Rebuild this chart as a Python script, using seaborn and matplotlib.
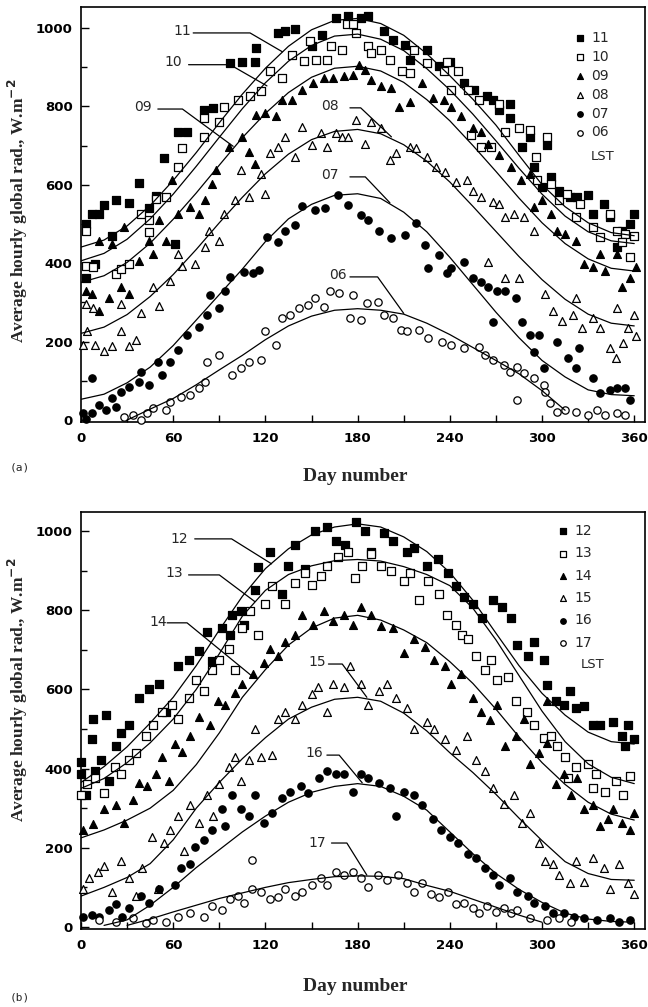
import numpy as np
import matplotlib
matplotlib.use("Agg")
import matplotlib.pyplot as plt
import seaborn as sns
from matplotlib.ticker import MultipleLocator

# ─── DADOS ───────────────────────────────────────────────────────────────────
# pontos: (dia, radiação média horária W/m2)
A11 = [(3, 500), (7, 525), (12, 525), (15, 549), (23, 562), (31, 553), (38, 605), (49, 571),
       (54, 669), (61, 448), (63, 735), (69, 735), (80, 790), (86, 795), (97, 910), (105, 914),
       (113, 914), (114, 948), (128, 987), (133, 991), (139, 996), (150, 953), (157, 983),
       (166, 1026), (174, 1030), (182, 1026), (187, 1030), (197, 991), (203, 970), (211, 957),
       (214, 919), (225, 944), (233, 902), (240, 914), (249, 859), (256, 842), (264, 825),
       (268, 816), (272, 790), (279, 807), (279, 769), (287, 697), (292, 722), (295, 645),
       (303, 701), (300, 594), (306, 620), (311, 585), (318, 568), (323, 568), (330, 573),
       (333, 526), (340, 551), (344, 517), (352, 483), (357, 500), (360, 526), (349, 440),
       (3, 363), (9, 397), (20, 470), (44, 540)]
A10 = [(3, 483), (3, 393), (8, 389), (23, 372), (26, 385), (31, 397), (39, 526), (44, 509),
       (49, 564), (44, 479), (55, 568), (63, 645), (66, 693), (80, 722), (80, 769), (90, 761),
       (93, 799), (102, 816), (110, 825), (117, 838), (123, 889), (131, 872), (137, 932),
       (145, 915), (149, 966), (153, 919), (160, 919), (163, 953), (170, 944), (173, 1009),
       (177, 1009), (179, 987), (187, 953), (189, 936), (195, 944), (201, 919), (209, 889),
       (214, 885), (217, 944), (225, 910), (238, 914), (236, 889), (241, 842), (245, 889),
       (252, 842), (259, 816), (254, 727), (260, 697), (267, 697), (272, 807), (276, 735),
       (285, 744), (292, 739), (296, 671), (297, 611), (303, 722), (306, 603), (311, 560),
       (316, 577), (325, 551), (322, 517), (333, 491), (338, 466), (344, 526), (349, 483),
       (354, 474), (360, 470), (357, 415), (352, 453)]
A09 = [(3, 329), (7, 321), (12, 278), (18, 312), (26, 338), (31, 321), (12, 457), (20, 449),
       (28, 491), (38, 406), (44, 457), (47, 423), (51, 509), (55, 457), (59, 611), (63, 526),
       (71, 543), (77, 526), (81, 560), (85, 603), (88, 637), (96, 697), (105, 722), (109, 684),
       (113, 654), (114, 778), (120, 782), (127, 774), (131, 816), (137, 816), (144, 842),
       (151, 859), (158, 872), (164, 872), (171, 876), (177, 880), (181, 906), (185, 893),
       (189, 868), (195, 851), (202, 846), (207, 799), (214, 812), (222, 859), (229, 821),
       (236, 816), (241, 799), (247, 774), (255, 744), (260, 735), (265, 705), (272, 675),
       (280, 645), (286, 611), (292, 628), (295, 543), (300, 560), (306, 526), (310, 483),
       (315, 474), (322, 457), (327, 397), (333, 389), (338, 423), (341, 380), (349, 423),
       (352, 338), (357, 363), (361, 389)]
A08 = [(1, 192), (4, 226), (9, 192), (15, 175), (20, 188), (26, 226), (31, 188), (36, 205),
       (3, 295), (8, 286), (26, 295), (39, 274), (47, 338), (51, 291), (58, 355), (63, 423),
       (66, 393), (74, 397), (81, 440), (83, 483), (90, 457), (93, 526), (100, 560), (104, 637),
       (109, 569), (117, 628), (120, 577), (123, 680), (128, 697), (133, 722), (139, 671),
       (144, 748), (150, 701), (156, 731), (160, 697), (166, 731), (170, 722), (174, 722),
       (179, 765), (185, 705), (189, 761), (195, 744), (201, 663), (205, 680), (214, 697),
       (218, 693), (225, 671), (231, 645), (237, 632), (244, 607), (251, 611), (255, 585),
       (260, 568), (268, 556), (272, 551), (276, 517), (282, 526), (288, 517), (265, 402),
       (276, 363), (285, 363), (295, 483), (302, 321), (307, 278), (313, 252), (320, 269),
       (322, 312), (326, 235), (333, 261), (338, 235), (344, 184), (348, 158), (353, 197),
       (356, 235), (360, 269), (361, 214), (349, 286)]
A07 = [(1, 17), (3, 4), (7, 17), (7, 106), (12, 38), (16, 26), (20, 55), (23, 34), (26, 72),
       (31, 85), (38, 98), (39, 123), (44, 89), (50, 149), (53, 115), (58, 149), (63, 179),
       (69, 217), (77, 238), (82, 268), (84, 319), (90, 285), (94, 328), (97, 366), (106, 378),
       (112, 374), (116, 383), (121, 468), (128, 455), (133, 481), (139, 498), (144, 545),
       (152, 536), (159, 540), (167, 574), (174, 549), (182, 523), (187, 511), (194, 481),
       (202, 464), (211, 472), (218, 502), (224, 447), (226, 387), (233, 421), (238, 374),
       (241, 387), (249, 404), (255, 362), (260, 353), (265, 340), (271, 328), (268, 251),
       (276, 328), (283, 311), (287, 251), (292, 217), (295, 174), (298, 217), (301, 132),
       (310, 200), (317, 157), (322, 132), (324, 183), (333, 106), (338, 68), (344, 77),
       (349, 81), (354, 81), (357, 51)]
A06 = [(28, 8), (34, 13), (39, 0), (43, 17), (47, 30), (55, 26), (58, 47), (65, 60), (71, 64),
       (77, 81), (81, 98), (82, 149), (90, 166), (98, 115), (104, 132), (109, 149), (117, 153),
       (120, 226), (127, 192), (131, 260), (136, 268), (142, 285), (148, 294), (152, 311),
       (158, 289), (162, 328), (168, 323), (177, 319), (175, 260), (182, 255), (186, 298),
       (193, 302), (197, 268), (203, 260), (208, 230), (212, 226), (220, 230), (226, 209),
       (235, 200), (241, 192), (249, 183), (259, 187), (263, 166), (268, 153), (275, 140),
       (279, 123), (284, 136), (288, 119), (295, 106), (301, 89), (302, 72), (284, 51),
       (305, 43), (310, 21), (315, 26), (322, 21), (330, 13), (336, 26), (341, 13), (349, 17),
       (354, 13)]

B12 = [(8, 526), (16, 535), (0, 417), (7, 474), (13, 421), (23, 456), (26, 491), (31, 509),
       (38, 579), (44, 601), (51, 614), (55, 544), (63, 658), (70, 675), (77, 697), (82, 746),
       (85, 671), (92, 754), (97, 737), (98, 789), (104, 798), (106, 763), (113, 851),
       (115, 908), (123, 947), (131, 842), (135, 912), (139, 965), (146, 904), (152, 1000),
       (160, 1009), (166, 974), (172, 965), (179, 1022), (185, 1000), (189, 947), (197, 996),
       (203, 974), (212, 947), (217, 956), (225, 912), (232, 930), (239, 895), (244, 860),
       (249, 833), (255, 816), (261, 781), (268, 825), (274, 807), (280, 781), (284, 711),
       (291, 684), (295, 719), (301, 675), (303, 610), (309, 570), (314, 561), (318, 596),
       (322, 553), (327, 557), (333, 509), (338, 509), (346, 518), (352, 482), (356, 509),
       (360, 474), (354, 456), (0, 386), (3, 333), (9, 395), (18, 368)]
B13 = [(0, 333), (4, 360), (9, 377), (15, 338), (22, 404), (26, 386), (31, 421), (36, 439),
       (42, 482), (47, 509), (53, 544), (59, 561), (63, 526), (70, 579), (75, 623), (80, 596),
       (85, 649), (90, 675), (96, 702), (100, 649), (105, 754), (110, 798), (115, 737),
       (120, 816), (124, 860), (133, 816), (139, 868), (146, 895), (150, 864), (156, 886),
       (160, 912), (167, 934), (174, 947), (178, 882), (183, 912), (189, 943), (195, 912),
       (202, 899), (210, 873), (214, 895), (220, 825), (226, 873), (233, 842), (238, 789),
       (244, 763), (248, 737), (252, 728), (257, 684), (263, 649), (267, 675), (271, 623),
       (278, 632), (283, 570), (290, 544), (295, 509), (301, 478), (306, 482), (310, 456),
       (315, 430), (322, 404), (330, 412), (335, 386), (341, 342), (348, 368), (353, 333),
       (357, 382), (333, 351), (317, 377)]
B14 = [(1, 246), (8, 259), (15, 298), (23, 307), (28, 263), (34, 320), (38, 364), (43, 355),
       (49, 386), (53, 430), (57, 368), (61, 461), (66, 443), (71, 482), (77, 531), (84, 509),
       (89, 570), (94, 561), (100, 592), (105, 614), (112, 640), (119, 667), (123, 702),
       (128, 684), (133, 719), (139, 737), (144, 789), (151, 763), (158, 798), (164, 772),
       (171, 789), (177, 763), (182, 807), (189, 789), (195, 759), (203, 754), (210, 693),
       (217, 728), (224, 706), (230, 675), (237, 658), (241, 614), (247, 640), (255, 579),
       (260, 544), (266, 522), (271, 561), (276, 456), (283, 482), (288, 526), (292, 412),
       (298, 439), (303, 465), (309, 360), (314, 386), (319, 333), (323, 377), (327, 298),
       (333, 307), (338, 254), (343, 272), (346, 298), (352, 263), (357, 246), (360, 289),
       (303, 570)]
B15 = [(1, 96), (5, 123), (11, 140), (15, 154), (20, 88), (26, 167), (31, 123), (36, 79),
       (40, 149), (46, 228), (50, 96), (54, 211), (58, 246), (63, 281), (67, 193), (71, 307),
       (77, 263), (82, 333), (86, 281), (90, 360), (96, 404), (100, 430), (104, 368),
       (109, 421), (113, 500), (117, 430), (124, 434), (128, 526), (133, 544), (139, 526),
       (144, 561), (150, 588), (154, 605), (160, 544), (164, 614), (171, 605), (175, 658),
       (182, 614), (187, 561), (194, 596), (199, 614), (205, 579), (212, 553), (217, 500),
       (225, 518), (230, 500), (237, 474), (244, 447), (251, 482), (257, 421), (263, 395),
       (268, 351), (275, 311), (282, 333), (287, 263), (292, 289), (298, 211), (302, 167),
       (307, 158), (311, 132), (318, 110), (322, 167), (327, 114), (333, 175), (340, 149),
       (344, 96), (350, 158), (356, 110), (360, 83)]
B16 = [(1, 26), (7, 31), (12, 26), (18, 44), (23, 57), (27, 26), (31, 48), (39, 79), (44, 61),
       (51, 96), (61, 105), (65, 149), (71, 158), (74, 202), (80, 219), (85, 246), (92, 298),
       (94, 254), (98, 333), (104, 298), (109, 281), (113, 333), (119, 263), (124, 289),
       (131, 325), (136, 342), (143, 355), (148, 338), (155, 377), (160, 395), (166, 386),
       (171, 386), (177, 342), (182, 386), (187, 377), (194, 364), (201, 351), (205, 281),
       (210, 342), (217, 333), (222, 307), (229, 272), (234, 246), (240, 228), (245, 211),
       (252, 184), (257, 175), (263, 149), (268, 132), (272, 105), (279, 123), (284, 88),
       (291, 79), (295, 61), (302, 53), (307, 35), (314, 35), (321, 26), (327, 22), (336, 18),
       (344, 22), (350, 13), (357, 18)]
B17 = [(12, 18), (23, 13), (34, 22), (42, 9), (47, 18), (55, 13), (63, 26), (71, 35), (80, 26),
       (85, 53), (92, 44), (97, 70), (102, 79), (106, 61), (111, 96), (117, 88), (123, 70),
       (128, 75), (133, 96), (139, 79), (144, 88), (150, 105), (156, 123), (160, 105),
       (166, 140), (171, 132), (177, 140), (182, 123), (187, 101), (193, 132), (199, 118),
       (206, 132), (212, 110), (217, 88), (222, 110), (228, 83), (233, 75), (239, 88),
       (244, 57), (249, 61), (255, 48), (259, 35), (264, 53), (270, 39), (275, 48), (280, 35),
       (284, 44), (292, 22), (303, 18), (311, 22), (319, 13), (111, 170)]

# curvas ajustadas, lidas a cada 15 dias
CURVE_DAYS = list(range(0, 361, 15))
nan = np.nan
C11 = [441, 459, 495, 547, 611, 682, 758, 831, 897, 953, 995, 1019, 1024, 1011, 981, 934, 878,
       818, 752, 675, 600, 544, 503, 478, 470]
C10 = [406, 425, 461, 513, 576, 647, 721, 794, 860, 915, 955, 979, 984, 971, 942, 896, 842,
       780, 712, 642, 576, 520, 480, 457, 450]
C09 = [351, 368, 402, 451, 512, 579, 650, 720, 782, 835, 874, 897, 902, 890, 861, 817, 763,
       700, 634, 566, 503, 450, 411, 387, 380]
C08 = [221, 237, 269, 315, 371, 435, 503, 568, 628, 678, 715, 736, 741, 730, 702, 660, 607,
       545, 481, 417, 358, 308, 270, 247, 240]
C07 = [53, 66, 95, 135, 190, 255, 320, 385, 455, 513, 550, 573, 577, 565, 530, 480, 415, 345,
       275, 210, 152, 110, 77, 65, 62]
C06 = [nan, nan, 0, 28, 55, 90, 128, 165, 205, 240, 265, 280, 284, 280, 270, 247, 218, 185,
       152, 118, 75, 25, nan, nan, nan]
C12 = [365, 405, 455, 515, 580, 660, 750, 835, 905, 955, 990, 1010, 1018, 1010, 985, 948, 895,
       825, 742, 660, 590, 535, 492, 468, 462]
C13 = [350, 375, 415, 465, 525, 600, 690, 785, 850, 890, 912, 925, 928, 924, 910, 890, 862,
       805, 725, 635, 545, 468, 412, 378, 362]
C14 = [225, 245, 270, 300, 345, 410, 490, 580, 650, 712, 755, 780, 787, 775, 750, 718, 670,
       615, 550, 480, 415, 360, 315, 285, 270]
C15 = [78, 100, 125, 160, 220, 300, 365, 425, 478, 525, 555, 575, 580, 570, 540, 495, 440,
       390, 335, 275, 218, 165, 135, 120, 118]
C16 = [nan, 4, 18, 55, 100, 150, 195, 240, 280, 315, 340, 355, 362, 355, 330, 295, 240, 185,
       135, 95, 62, 35, 20, 14, 12]
C17 = [nan, nan, 4, 20, 38, 55, 72, 86, 100, 112, 120, 127, 129, 128, 122, 105, 90, 70, 50,
       30, 12, nan, nan, nan, nan]

# horas (LST) e estilo dos marcadores
HOURS_A = ["11", "10", "09", "08", "07", "06"]
HOURS_B = ["12", "13", "14", "15", "16", "17"]
MARKERS = [("s", "black"), ("s", "white"), ("^", "black"), ("^", "white"),
           ("o", "black"), ("o", "white")]

# rótulos das curvas: texto e linha de chamada
LABELS_A = [("11", 66, 992, [73, 110, 131], [987, 987, 939]),
            ("10", 60, 913, [70, 97, 121], [906, 906, 852]),
            ("09", 40, 798, [50, 66, 99], [793, 793, 698]),
            ("08", 162, 801, [175, 182, 202], [796, 796, 722]),
            ("07", 162, 625, [175, 185, 201], [620, 620, 554]),
            ("06", 167, 370, [175, 193, 210], [365, 365, 272])]
LABELS_B = [("12", 64, 980, [74, 98, 124], [980, 980, 917]),
            ("13", 61, 894, [70, 90, 113], [889, 889, 822]),
            ("14", 50, 770, [56, 69, 113], [768, 768, 628]),
            ("15", 154, 669, [161, 170, 186], [664, 664, 580]),
            ("16", 152, 439, [160, 168, 183], [434, 434, 364]),
            ("17", 154, 212, [163, 173, 186], [212, 212, 131])]

# ─── CONFIGURAÇÃO DE PLOT ─────────────────────────────────────────────────────
sns.set_theme(style="ticks")
plt.rcParams['font.family'] = ['DejaVu Sans']
plt.rcParams['axes.edgecolor'] = 'black'
plt.rcParams['xtick.color'] = 'black'
plt.rcParams['ytick.color'] = 'black'


def draw_panel(ax, hours, points, curves, labels, ylim, leg_anchor, leg_space, lst_pos):
    for h, pts, (mk, fc) in zip(hours, points, MARKERS):
        d, v = np.array(pts).T
        sns.scatterplot(x=d, y=v, ax=ax, marker=mk, color=fc, edgecolor='black',
                        linewidth=0.9, s=28 if mk != '^' else 32, label=h, zorder=3,
                        clip_on=False)
    for c in curves:
        sns.lineplot(x=CURVE_DAYS, y=c, ax=ax, color='black', lw=0.9, estimator=None,
                     sort=False, zorder=4)
    for txt, tx, ty, px, py in labels:
        ax.plot(px, py, color='black', lw=0.9, zorder=4)
        ax.text(tx, ty, txt, ha='center', va='center', fontsize=10)

    ax.set_xlim(0, 367)
    ax.set_ylim(*ylim)
    ax.set_xticks(range(0, 361, 60))
    ax.xaxis.set_minor_locator(MultipleLocator(30))
    ax.set_yticks(range(0, 1001, 200))
    ax.yaxis.set_minor_locator(MultipleLocator(100))
    ax.tick_params(which='both', direction='in', width=1.0)
    ax.tick_params(axis='x', which='both', length=5, pad=7)
    ax.tick_params(axis='y', which='major', length=6, pad=6)
    ax.tick_params(axis='y', which='minor', length=4)
    for lbl in ax.get_xticklabels() + ax.get_yticklabels():
        lbl.set_fontweight('bold')
        lbl.set_fontsize(9.5)
    for sp in ax.spines.values():
        sp.set_visible(True)
        sp.set_linewidth(1.2)
        sp.set_color('black')
    ax.set_xlabel('')
    ax.set_ylabel('')

    handles, labs = ax.get_legend_handles_labels()
    ax.legend(handles, labs, loc='upper left', bbox_to_anchor=leg_anchor, frameon=False,
              fontsize=10, handlelength=0.6, handletextpad=0.5, labelspacing=leg_space,
              borderpad=0, borderaxespad=0, markerscale=0.75)
    ax.text(lst_pos[0], lst_pos[1], 'LST', ha='left', va='center', fontsize=9.5)


fig = plt.figure(figsize=(6.48, 10.07), dpi=100)
ax_a = fig.add_axes([81 / 648, 0.5809, 564 / 648, 0.4121])
ax_b = fig.add_axes([81 / 648, 0.0775, 564 / 648, 0.4141])

draw_panel(ax_a, HOURS_A, [A11, A10, A09, A08, A07, A06], [C11, C10, C09, C08, C07, C06],
           LABELS_A, (-5, 1053), (0.878, 0.942), 0.35, (332, 671))
draw_panel(ax_b, HOURS_B, [B12, B13, B14, B15, B16, B17], [C12, C13, C14, C15, C16, C17],
           LABELS_B, (-5, 1048), (0.848, 0.971), 0.6, (325, 664))

ylab = 'Average hourly global rad., W.m$^{\\mathbf{-2}}$'
for yc in (0.7905, 0.3148):
    fig.text(18 / 648, yc, ylab, rotation=90, ha='center', va='center',
             family='Liberation Serif', fontweight='bold', fontsize=12.5)
for yc in (0.527, 0.0199):
    fig.text(0.548, yc, 'Day number', ha='center', va='center',
             family='Liberation Serif', fontweight='bold', fontsize=14)
fig.text(20 / 648, 0.536, '(a)', ha='center', va='center', family='DejaVu Sans Mono', fontsize=8)
fig.text(20 / 648, 0.009, '(b)', ha='center', va='center', family='DejaVu Sans Mono', fontsize=8)

plt.savefig('out.png', dpi=100)
plt.close()
